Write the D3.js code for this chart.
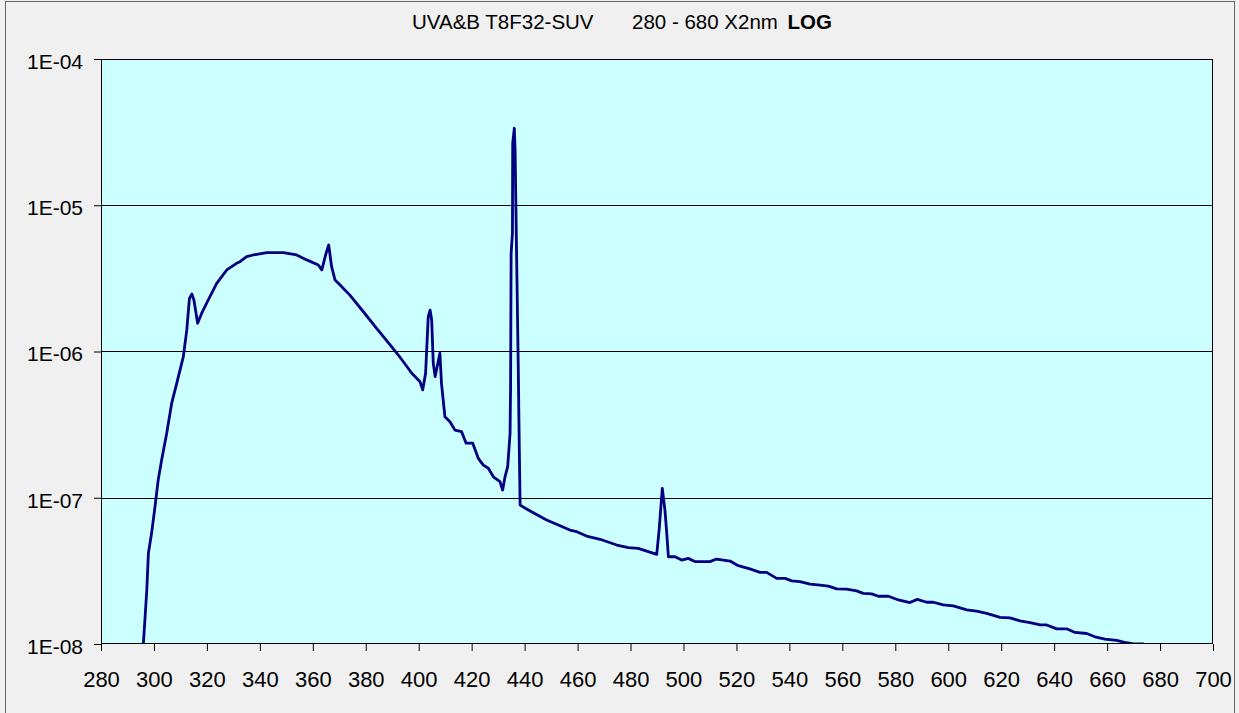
<!DOCTYPE html>
<html>
<head>
<meta charset="utf-8">
<script src="https://cdn.jsdelivr.net/npm/d3@7"></script>
<style>
  body { margin: 0; background: #f0f0f0; }
  svg { display: block; }
  text { font-family: "Liberation Sans", Arial, sans-serif; fill: #000; }
</style>
</head>
<body>
<svg width="1239" height="713"></svg>
<script>
// wavelength (nm)
var wavelength = [295.8, 296, 297.3, 297.9, 299.1, 300.4, 301.6, 302.9, 304.8, 306.7, 308.6, 311.1, 312.4,
  313.4, 314.3, 315.1, 316.5, 318.0, 320.5, 323.7, 327.5, 331.2, 332.5, 335.0, 337.5, 342.6, 348.9,
  353.9, 357.7, 362.1, 363.4, 365.0, 366.0, 367.1, 368.4, 370.3, 374.0, 379.1, 384.1, 389.2, 392.3,
  394.2, 397.4, 400.5, 401.5, 402.6, 403.6, 404.3, 404.9, 405.5, 406.2, 408.0, 408.6, 409.9, 411.8,
  413.7, 416.2, 417.9, 420.4, 422.5, 424.4, 426.3, 428.2, 430.7, 431.7, 432.6, 433.6, 434.5, 434.7,
  434.9, 435.4, 435.5, 436.1, 436.4, 437.0, 437.6, 438.0, 438.3, 441.4, 448.3, 457.1, 459.7, 463.4,
  468.5, 474.8, 479.2, 482.9, 489.9, 490.8, 492.0, 493.0, 493.6, 494.3, 496.8, 499.3, 501.8, 504.3,
  507.0, 510.0, 512.5, 517.6, 520.7, 525.1, 528.9, 531.4, 535.2, 538.4, 540.9, 544.0, 547.8, 551.6,
  554.7, 557.9, 561.6, 565.4, 567.9, 571.1, 573.6, 577.4, 581.2, 585.5, 588.3, 591.9, 594.4, 598.1,
  601.9, 607.0, 610.7, 614.5, 619.6, 623.3, 627.1, 630.9, 634.7, 637.2, 641.0, 644.7, 647.9, 652.3,
  655.4, 659.2, 663.6, 667.4, 669.9, 673.7, 676.0];

// irradiance
var irradiance = [9.0e-9, 1.0e-8, 2.34e-8, 4.17e-8, 5.71e-8, 8.69e-8, 1.32e-7, 1.81e-7, 2.75e-7, 4.43e-7, 6.05e-7, 9.23e-7, 1.40e-6,
  2.31e-6, 2.47e-6, 2.25e-6, 1.56e-6, 1.82e-6, 2.25e-6, 2.92e-6, 3.61e-6, 4.01e-6, 4.11e-6, 4.45e-6, 4.57e-6, 4.74e-6, 4.74e-6,
  4.57e-6, 4.23e-6, 3.90e-6, 3.61e-6, 4.69e-6, 5.35e-6, 3.80e-6, 3.08e-6, 2.85e-6, 2.43e-6, 1.87e-6, 1.44e-6, 1.11e-6, 9.46e-7,
  8.51e-7, 7.10e-7, 6.21e-7, 5.46e-7, 7.10e-7, 1.73e-6, 1.92e-6, 1.64e-6, 8.30e-7, 6.73e-7, 9.73e-7, 6.05e-7, 3.58e-7, 3.31e-7,
  2.90e-7, 2.83e-7, 2.36e-7, 2.36e-7, 1.86e-7, 1.67e-7, 1.59e-7, 1.39e-7, 1.29e-7, 1.13e-7, 1.39e-7, 1.63e-7, 2.75e-7, 5.74e-7,
  4.69e-6, 6.43e-6, 2.65e-5, 3.36e-5, 2.39e-5, 4.23e-6, 7.87e-7, 2.12e-7, 8.91e-8, 8.24e-8, 7.05e-8, 6.01e-8, 5.86e-8, 5.47e-8,
  5.20e-8, 4.75e-8, 4.56e-8, 4.51e-8, 4.10e-8, 6.01e-8, 1.16e-7, 8.24e-8, 6.01e-8, 3.95e-8, 3.95e-8, 3.75e-8, 3.85e-8, 3.66e-8,
  3.66e-8, 3.66e-8, 3.81e-8, 3.69e-8, 3.43e-8, 3.26e-8, 3.09e-8, 3.09e-8, 2.81e-8, 2.81e-8, 2.70e-8, 2.67e-8, 2.57e-8, 2.53e-8,
  2.49e-8, 2.38e-8, 2.37e-8, 2.31e-8, 2.22e-8, 2.20e-8, 2.12e-8, 2.12e-8, 2.00e-8, 1.92e-8, 2.02e-8, 1.93e-8, 1.93e-8, 1.85e-8,
  1.82e-8, 1.71e-8, 1.68e-8, 1.62e-8, 1.52e-8, 1.51e-8, 1.44e-8, 1.40e-8, 1.35e-8, 1.35e-8, 1.27e-8, 1.27e-8, 1.20e-8, 1.18e-8,
  1.12e-8, 1.08e-8, 1.06e-8, 1.02e-8, 1.00e-8, 1.00e-8, 9.5e-9];

var xTicks = d3.range(280, 701, 20);
var yTicks = [1e-8, 1e-7, 1e-6, 1e-5, 1e-4];
var yTickLabels = ["1E-08", "1E-07", "1E-06", "1E-05", "1E-04"];

var svg = d3.select("svg");

// outer frame
svg.append("rect")
  .attr("x", 5.5).attr("y", 1.5)
  .attr("width", 1229).attr("height", 730)
  .attr("fill", "#f0f0f0")
  .attr("stroke", "#666");

var x = d3.scaleLinear().domain([280, 700]).range([101, 1213]);
var y = d3.scaleLog().domain([1e-8, 1e-4]).range([644, 59]);

// plot area
svg.append("rect")
  .attr("x", 101).attr("y", 59)
  .attr("width", 1112).attr("height", 585)
  .attr("fill", "#ccffff");

svg.append("defs").append("clipPath").attr("id", "clip")
  .append("rect")
  .attr("x", 101).attr("y", 59)
  .attr("width", 1112).attr("height", 585);

// grid lines
svg.append("g")
  .selectAll("line")
  .data(yTicks.slice(1, 4))
  .enter()
  .append("line")
  .attr("x1", 101).attr("x2", 1213)
  .attr("y1", function(d) { return Math.round(y(d)) + 0.5; })
  .attr("y2", function(d) { return Math.round(y(d)) + 0.5; })
  .attr("stroke", "#000")
  .attr("stroke-width", 1);

// the spectrum
var line = d3.line()
  .x(function(d, i) { return x(wavelength[i]); })
  .y(function(d) { return y(d); });

svg.append("path")
  .datum(irradiance)
  .attr("clip-path", "url(#clip)")
  .attr("d", line)
  .attr("fill", "none")
  .attr("stroke", "#000080")
  .attr("stroke-width", 2.8)
  .attr("stroke-linejoin", "round");

svg.append("rect")
  .attr("x", 101.5).attr("y", 59.5)
  .attr("width", 1111).attr("height", 584)
  .attr("fill", "none")
  .attr("stroke", "#000");

// axes
var xAxis = svg.append("g")
  .attr("transform", "translate(0,644)")
  .call(d3.axisBottom(x).tickValues(xTicks).tickSize(7).tickPadding(20).tickFormat(d3.format("d")));
var yAxis = svg.append("g")
  .attr("transform", "translate(101,0)")
  .call(d3.axisLeft(y).tickValues(yTicks).tickSize(7).tickPadding(11)
    .tickFormat(function(d, i) { return yTickLabels[i]; }));

[xAxis, yAxis].forEach(function(a) {
  a.select(".domain").remove();
  a.selectAll("line").attr("stroke", "#000");
  a.selectAll("text").attr("font-family", "Liberation Sans, Arial, sans-serif");
});
xAxis.selectAll("text").attr("font-size", 22);
yAxis.selectAll("text").attr("font-size", 21).attr("dy", "0.45em");

// title
var title = svg.append("text")
  .attr("y", 29)
  .attr("font-size", 20.5);
title.append("tspan").attr("x", 412).text("UVA&B T8F32-SUV");
title.append("tspan").attr("x", 632).text("280 - 680 X2nm");
title.append("tspan").attr("x", 832).attr("text-anchor", "end").attr("font-weight", "bold").text("LOG");
</script>
</body>
</html>
